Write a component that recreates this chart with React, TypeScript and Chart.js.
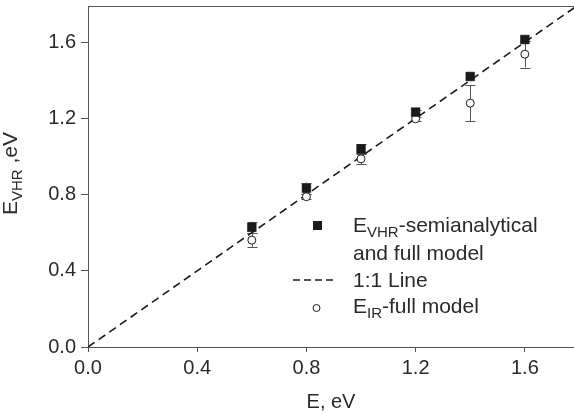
import React, { useEffect, useRef } from "react";
import { Chart, registerables } from "chart.js";

Chart.register(...registerables);

const energies = [0.6, 0.8, 1.0, 1.2, 1.4, 1.6];
const vhrValues = [0.628, 0.833, 1.04, 1.233, 1.42, 1.614];
const vhrErrors = [0.03, 0.03, 0.025, 0.012, 0, 0];
const irValues = [0.561, 0.789, 0.988, 1.198, 1.28, 1.537];
const irErrors = [0.035, 0.012, 0.03, 0.01, 0.095, 0.07];
const lineX = [0, 1.79];
const tickValues = [0, 0.4, 0.8, 1.2, 1.6];
const xMax = 1.78;
const yMax = 1.79;

const FONT = "'Liberation Sans', Arial, Helvetica, sans-serif";
const AXIS_COLOR = "#555";
const INK = "#1a1a1a";
const TEXT = "#2a2a2a";

function drawSubText(
  ctx: CanvasRenderingContext2D,
  parts: { t: string; sub?: boolean }[],
  x: number,
  y: number,
  size: number
) {
  let cx = x;
  for (const p of parts) {
    const fs = p.sub ? Math.round(size * 0.72) : size;
    ctx.font = `${fs}px ${FONT}`;
    ctx.fillText(p.t, cx, p.sub ? y + size * 0.22 : y);
    cx += ctx.measureText(p.t).width;
  }
}

const customPlugin = {
  id: "custom",
  beforeDatasetsDraw(chart: any) {
    const ctx = chart.ctx as CanvasRenderingContext2D;
    const xs = chart.scales.x;
    const ys = chart.scales.y;
    ctx.save();
    ctx.strokeStyle = "#555";
    ctx.lineWidth = 1;
    const drawErr = (vals: number[], errs: number[]) => {
      vals.forEach((v, i) => {
        const e = errs[i];
        if (!e) return;
        const px = Math.round(xs.getPixelForValue(energies[i])) + 0.5;
        const top = ys.getPixelForValue(v + e);
        const bot = ys.getPixelForValue(v - e);
        ctx.beginPath();
        ctx.moveTo(px, top);
        ctx.lineTo(px, bot);
        ctx.moveTo(px - 5, Math.round(top) + 0.5);
        ctx.lineTo(px + 5, Math.round(top) + 0.5);
        ctx.moveTo(px - 5, Math.round(bot) + 0.5);
        ctx.lineTo(px + 5, Math.round(bot) + 0.5);
        ctx.stroke();
      });
    };
    drawErr(irValues, irErrors);
    drawErr(vhrValues, vhrErrors);
    ctx.restore();
  },
  afterDraw(chart: any) {
    const ctx = chart.ctx as CanvasRenderingContext2D;
    const area = chart.chartArea;
    ctx.save();
    // top border
    ctx.strokeStyle = AXIS_COLOR;
    ctx.lineWidth = 1;
    ctx.beginPath();
    ctx.moveTo(area.left, Math.round(area.top) + 0.5);
    ctx.lineTo(area.right, Math.round(area.top) + 0.5);
    ctx.stroke();

    ctx.fillStyle = TEXT;
    ctx.textBaseline = "alphabetic";
    ctx.textAlign = "left";

    // x title
    ctx.font = `20px ${FONT}`;
    const xt = "E, eV";
    const xw = ctx.measureText(xt).width;
    ctx.fillText(xt, (area.left + area.right) / 2 - xw / 2, 408);

    // y title (rotated)
    ctx.save();
    ctx.translate(17, 215);
    ctx.rotate(-Math.PI / 2);
    drawSubText(ctx, [{ t: "E" }, { t: "VHR", sub: true }, { t: " ,eV" }], 0, 0, 21);
    ctx.restore();

    // legend
    ctx.fillStyle = INK;
    ctx.fillRect(313, 221, 9, 9);
    ctx.fillStyle = TEXT;
    drawSubText(ctx, [{ t: "E" }, { t: "VHR", sub: true }, { t: "-semianalytical" }], 353, 232, 21);
    ctx.font = `21px ${FONT}`;
    ctx.fillText("and full model", 353, 260);
    ctx.strokeStyle = INK;
    ctx.lineWidth = 1.6;
    ctx.setLineDash([7, 4]);
    ctx.beginPath();
    ctx.moveTo(293, 280);
    ctx.lineTo(335, 280);
    ctx.stroke();
    ctx.setLineDash([]);
    ctx.fillText("1:1 Line", 353, 287);
    ctx.beginPath();
    ctx.lineWidth = 1;
    ctx.fillStyle = "#fff";
    ctx.arc(316.5, 308, 3.5, 0, Math.PI * 2);
    ctx.fill();
    ctx.stroke();
    ctx.fillStyle = TEXT;
    drawSubText(ctx, [{ t: "E" }, { t: "IR", sub: true }, { t: "-full model" }], 353, 313, 21);
    ctx.restore();
  },
};

export default function App() {
  const ref = useRef<HTMLCanvasElement | null>(null);
  useEffect(() => {
    if (!ref.current) return;
    const setTicks = (scale: any) => {
      scale.ticks = tickValues.map((v) => ({ value: v }));
    };
    const chart = new Chart(ref.current, {
      type: "scatter",
      data: {
        datasets: [
          {
            label: "E_VHR-semianalytical and full model",
            data: energies.map((x, i) => ({ x, y: vhrValues[i] })),
            pointStyle: "rect",
            pointRadius: 6.2,
            backgroundColor: INK,
            borderColor: INK,
            borderWidth: 0.5,
            showLine: false,
            clip: false,
          },
          {
            label: "E_IR-full model",
            data: energies.map((x, i) => ({ x, y: irValues[i] })),
            pointStyle: "circle",
            pointRadius: 4,
            backgroundColor: "#fff",
            borderColor: INK,
            borderWidth: 1,
            showLine: false,
            clip: false,
          },
          {
            label: "1:1 Line",
            data: lineX.map((v) => ({ x: v, y: v })),
            showLine: true,
            borderColor: INK,
            borderWidth: 1.6,
            borderDash: [8, 5],
            pointRadius: 0,
            fill: false,
          },
        ],
      },
      options: {
        responsive: false,
        animation: false,
        events: [],
        layout: { autoPadding: false, padding: { top: 6, left: 0, right: 0, bottom: 0 } },
        plugins: { legend: { display: false }, tooltip: { enabled: false } },
        scales: {
          x: {
            type: "linear",
            min: 0,
            max: xMax,
            afterBuildTicks: setTicks,
            afterFit: (s: any) => {
              s.height = 66;
              s.paddingLeft = 0;
              s.paddingRight = 0;
            },
            grid: { display: true, drawOnChartArea: false, drawTicks: true, tickLength: 5, color: AXIS_COLOR },
            border: { display: true, color: AXIS_COLOR, width: 1 },
            ticks: {
              color: TEXT,
              font: { family: FONT, size: 20 },
              padding: 4,
              maxRotation: 0,
              callback: (v: any) => Number(v).toFixed(1),
            },
          },
          y: {
            type: "linear",
            min: 0,
            max: yMax,
            afterBuildTicks: setTicks,
            afterFit: (s: any) => {
              s.width = 88;
              s.paddingTop = 0;
              s.paddingBottom = 0;
            },
            grid: { display: true, drawOnChartArea: false, drawTicks: true, tickLength: 7, color: AXIS_COLOR },
            border: { display: true, color: AXIS_COLOR, width: 1 },
            ticks: {
              color: TEXT,
              font: { family: FONT, size: 20 },
              padding: 5,
              callback: (v: any) => Number(v).toFixed(1),
            },
          },
        },
      },
      plugins: [customPlugin],
    } as any);
    return () => chart.destroy();
  }, []);
  return (
    <canvas
      ref={ref}
      width={574}
      height={413}
      style={{ position: "fixed", left: 0, top: 0, width: 574, height: 413 }}
    />
  );
}
